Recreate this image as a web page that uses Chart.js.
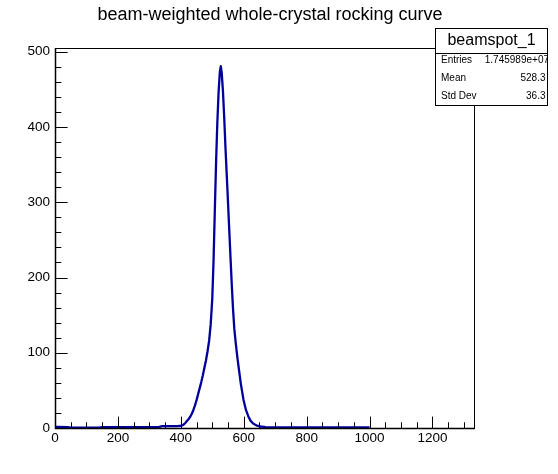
<!DOCTYPE html>
<html><head><meta charset="utf-8">
<script src="https://cdn.jsdelivr.net/npm/chart.js@4.4.0/dist/chart.umd.min.js"></script>
<style>html,body{margin:0;padding:0;background:#fff;}#c{display:block;}</style>
</head><body>
<canvas id="c" width="558" height="474"></canvas>
<script>
// ---- data ----
const binCenters = [0, 10, 40, 50, 140, 150, 330, 340, 390, 400, 405, 410, 415, 420, 425, 430, 435, 440, 445, 450, 455, 460, 465, 470, 475, 480, 485, 490, 495, 500, 504, 508, 512, 516, 520, 524, 527, 530, 534, 538, 542, 546, 550, 554, 558, 562, 566, 570, 575, 580, 585, 591, 599, 607, 615, 622, 630, 640, 652, 670, 700, 1000];
const counts = [1.5, 1.5, 1.2, 0.5, 0.5, 1.2, 1.2, 2.5, 2.5, 3, 3.5, 5, 7, 9.5, 12, 15, 19, 24, 30, 37, 45, 53, 61, 70, 80, 90, 102, 116, 138, 172, 222, 288, 352, 405, 446, 473, 481, 472, 447, 412, 372, 336, 300, 263, 226, 190, 158, 132, 111, 93, 77, 58, 38, 24, 15, 9.5, 6, 3.5, 2, 1.2, 0.8, 0.8];
const xRange = [0, 1332];
const yRange = [0, 505];
const xTickValues = [0, 200, 400, 600, 800, 1000, 1200];
const yTickValues = [0, 100, 200, 300, 400, 500];
const xMajorStep = 200, xMinorStep = 50;
const yMajorStep = 100, yMinorStep = 20;
const titleText = "beam-weighted whole-crystal rocking curve";
const statsTitle = "beamspot_1";
const statLabels = ["Entries", "Mean", "Std Dev"];
const statValues = ["1.745989e+07", "528.3", "36.3"];

const FONT = '"Liberation Sans", Arial, Helvetica, sans-serif';

const rootAxes = {
  id: 'rootAxes',
  afterDatasetsDraw(chart) {
    const {ctx, chartArea: a, scales: {x, y}} = chart;
    ctx.save();
    ctx.strokeStyle = '#000';
    ctx.lineWidth = 1;
    ctx.strokeRect(a.left + 0.5, a.top + 0.5, a.right - a.left, a.bottom - a.top);
    ctx.beginPath();
    for (let v = xRange[0]; v <= xRange[1]; v += xMinorStep) {
      const px = Math.round(x.getPixelForValue(v)) + 0.5;
      const len = (v % xMajorStep === 0) ? 11.4 : 5.7;
      ctx.moveTo(px, a.bottom); ctx.lineTo(px, a.bottom - len);
    }
    for (let v = yRange[0]; v <= yRange[1]; v += yMinorStep) {
      const py = Math.round(y.getPixelForValue(v)) + 0.5;
      const len = (v % yMajorStep === 0) ? 12.6 : 6.3;
      ctx.moveTo(a.left, py); ctx.lineTo(a.left + len, py);
    }
    ctx.stroke();
    ctx.lineWidth = 1.5;
    ctx.beginPath();
    ctx.moveTo(a.left + 0.5, a.top); ctx.lineTo(a.left + 0.5, a.bottom + 0.5);
    ctx.lineTo(a.right + 0.5, a.bottom + 0.5);
    ctx.stroke();
    ctx.restore();
  },
  afterDraw(chart) {
    const ctx = chart.ctx;
    ctx.save();
    ctx.fillStyle = '#000';
    ctx.font = '18px ' + FONT;
    ctx.textAlign = 'center';
    ctx.textBaseline = 'middle';
    ctx.fillText(titleText, 270, 15);
    const bx = 435.5, by = 28.5, bw = 112, bh = 77;
    ctx.fillStyle = '#fff';
    ctx.fillRect(bx, by, bw, bh);
    ctx.strokeStyle = '#000';
    ctx.lineWidth = 1;
    ctx.strokeRect(bx, by, bw, bh);
    ctx.beginPath();
    ctx.moveTo(bx, 53.5); ctx.lineTo(bx + bw, 53.5);
    ctx.stroke();
    ctx.fillStyle = '#000';
    ctx.font = '16px ' + FONT;
    ctx.textAlign = 'center';
    ctx.fillText(statsTitle, 491.5, 41);
    ctx.beginPath();
    ctx.rect(bx, by, bw, bh);
    ctx.clip();
    ctx.font = '10px ' + FONT;
    const rowY = [60.5, 78.5, 96.5];
    statLabels.forEach((lab, i) => {
      ctx.textAlign = 'left';
      ctx.fillText(lab, 441, rowY[i]);
      ctx.textAlign = 'right';
      ctx.fillText(statValues[i], i === 0 ? 549 : 545.5, rowY[i]);
    });
    ctx.restore();
  }
};

new Chart(document.getElementById('c'), {
  type: 'line',
  data: {
    datasets: [{
      data: binCenters.map((v, i) => ({x: v, y: counts[i]})),
      borderColor: '#00009c',
      borderWidth: 2.3,
      pointRadius: 0,
      tension: 0,
      borderJoinStyle: 'round',
      fill: false
    }]
  },
  options: {
    responsive: false,
    animation: false,
    devicePixelRatio: 1,
    layout: {padding: {left: 0, right: 84, top: 48, bottom: 0}},
    plugins: {legend: {display: false}, title: {display: false}, tooltip: {enabled: false}},
    scales: {
      x: {
        type: 'linear', min: xRange[0], max: xRange[1],
        grid: {display: false, drawTicks: false},
        border: {display: false},
        afterBuildTicks: s => { s.ticks = xTickValues.map(v => ({value: v})); },
        ticks: {autoSkip: false, maxRotation: 0, callback: v => String(v),
                color: '#000', padding: 2, font: {family: FONT, size: 13.5}},
        afterFit: s => { s.height = 46; }
      },
      y: {
        type: 'linear', min: yRange[0], max: yRange[1],
        grid: {display: false, drawTicks: false},
        border: {display: false},
        afterBuildTicks: s => { s.ticks = yTickValues.map(v => ({value: v})); },
        ticks: {autoSkip: false, callback: v => String(v),
                color: '#000', padding: 5, font: {family: FONT, size: 13.5}},
        afterFit: s => { s.width = 55; }
      }
    }
  },
  plugins: [rootAxes]
});
</script>
</body></html>
